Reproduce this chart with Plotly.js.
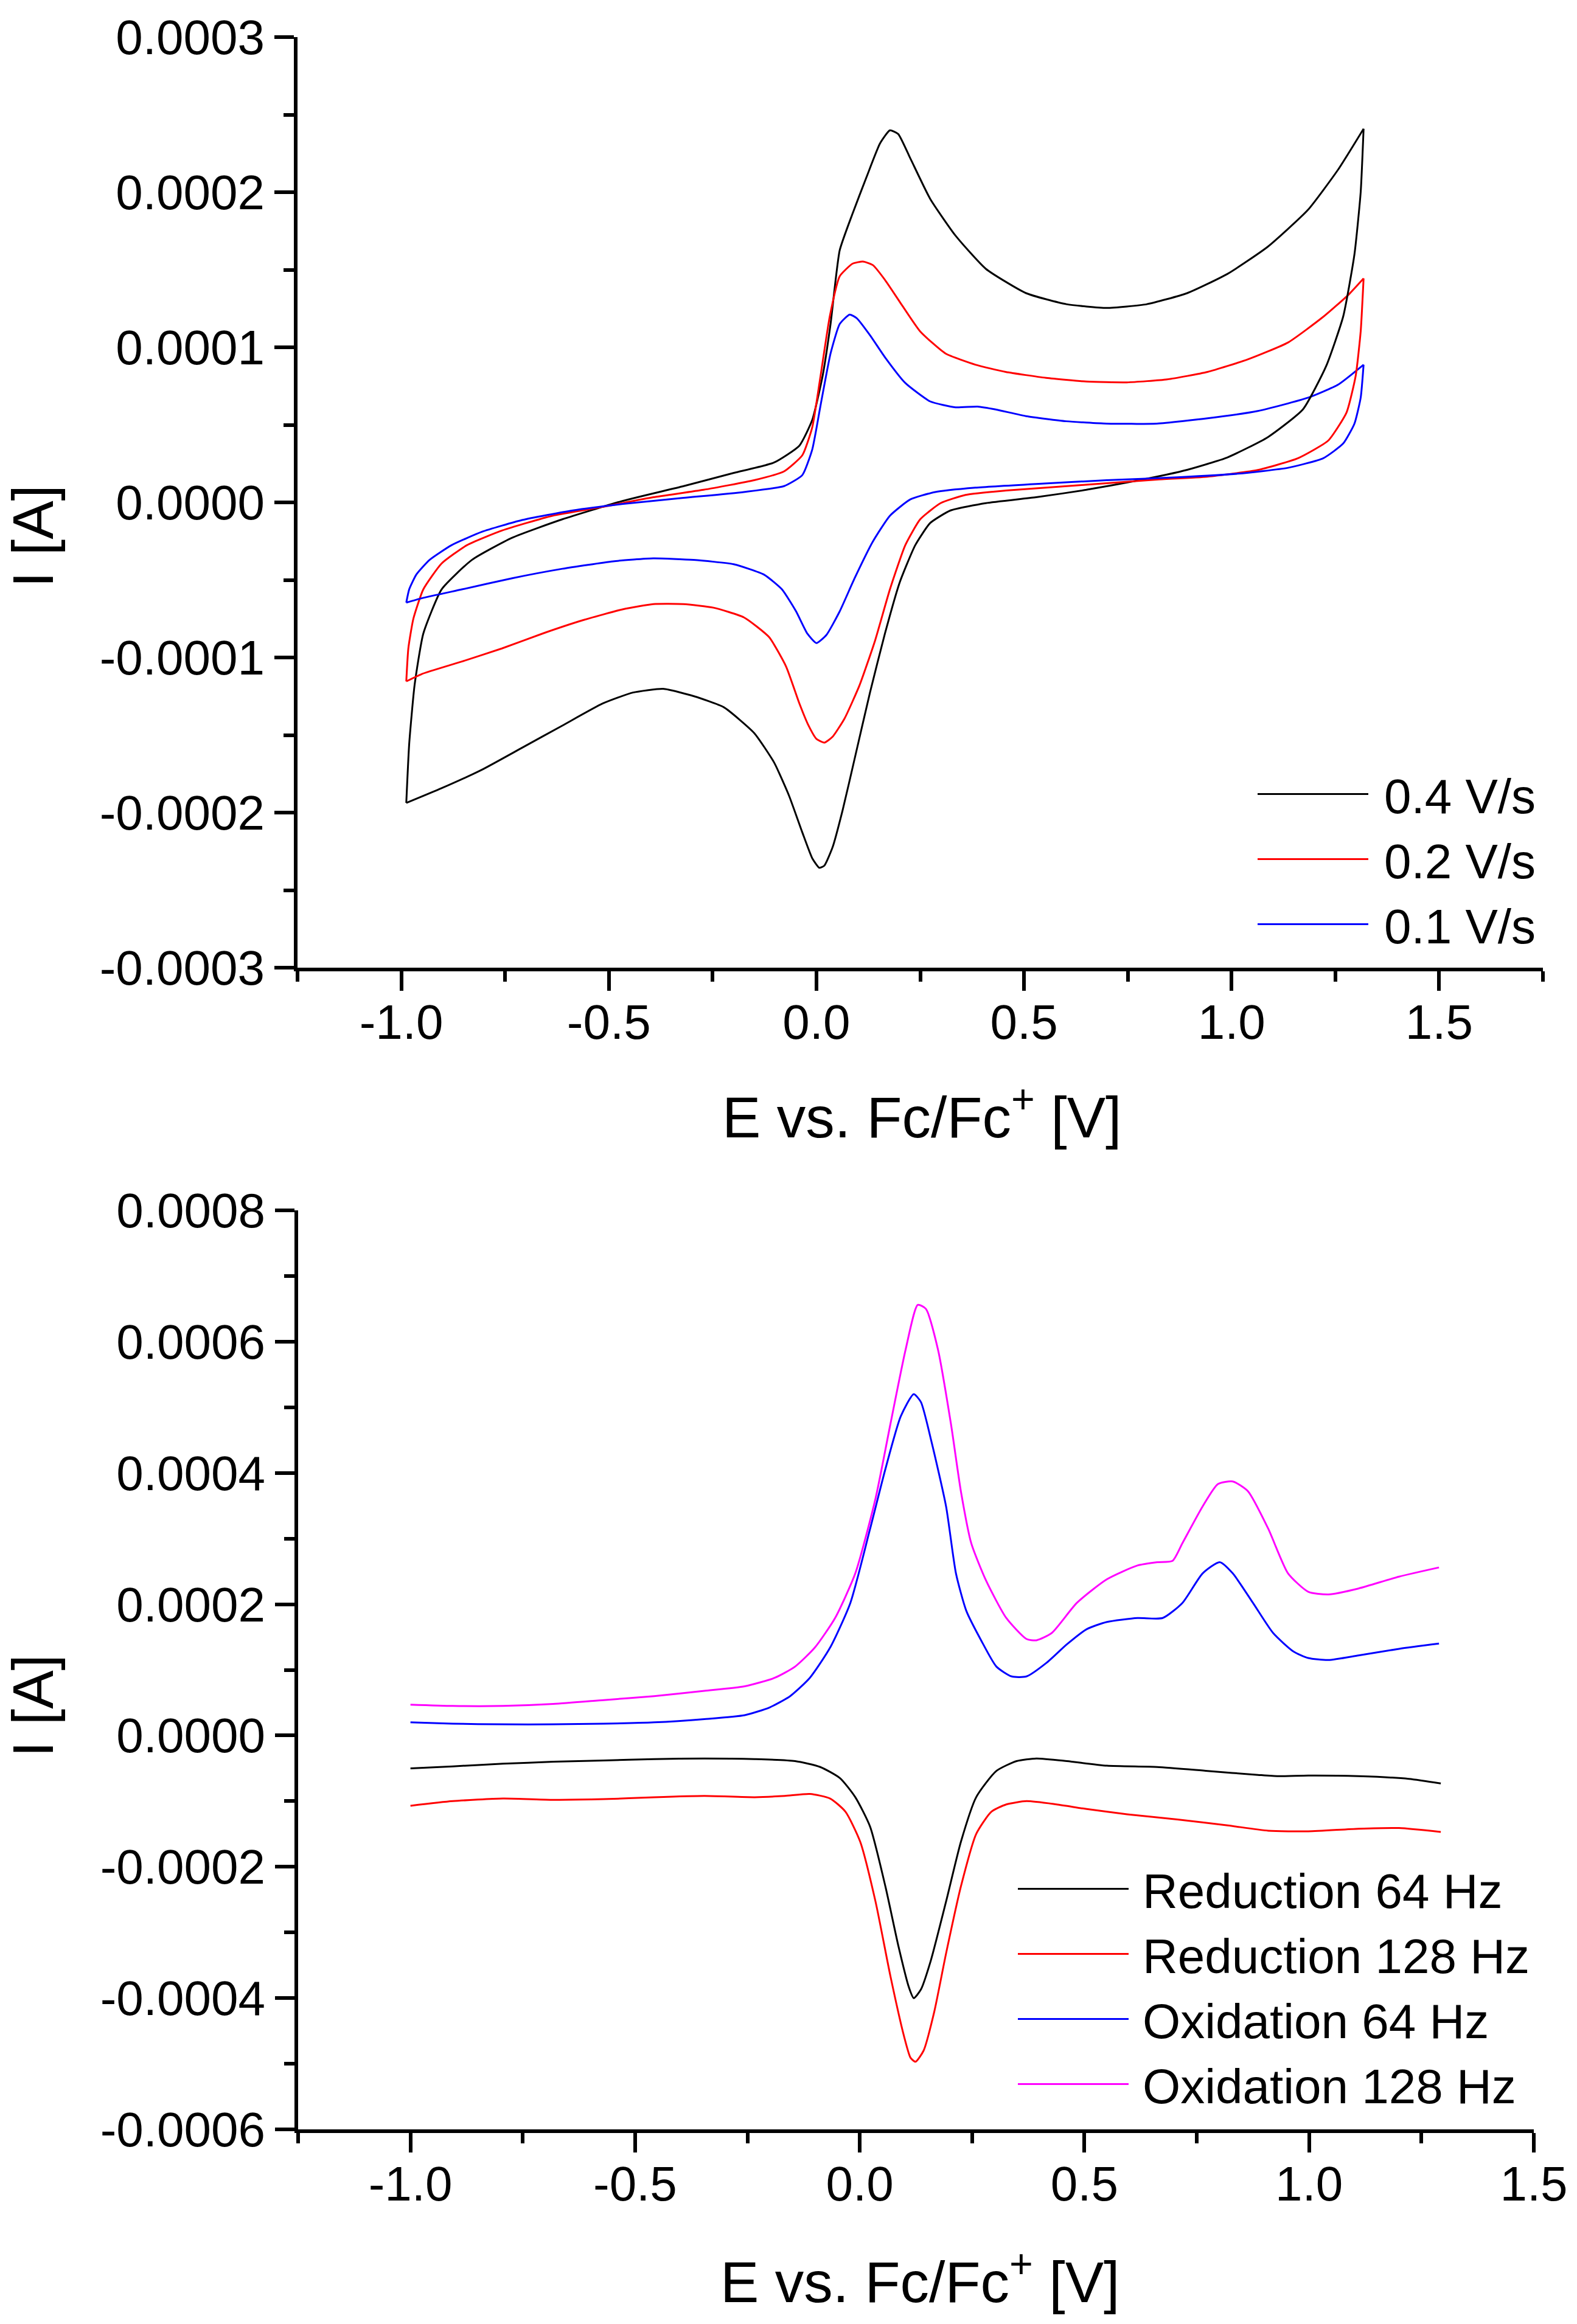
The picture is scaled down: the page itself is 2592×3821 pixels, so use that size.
<!DOCTYPE html>
<html><head><meta charset="utf-8">
<script src="https://cdn.plot.ly/plotly-3.0.1.min.js"></script>
<style>html,body{margin:0;padding:0;background:#fff}</style>
</head><body><div id="chart" style="width:2592px;height:3821px"></div>
<script>
// ---------- Top panel: cyclic voltammograms ----------
var cvLabels = ["0.4 V/s", "0.2 V/s", "0.1 V/s"];
var cvColors = ["#000000", "#FF0000", "#0000FF"];

var cv04_fwd_E = [-0.988,-0.981,-0.968,-0.947,-0.903,-0.830,-0.733,-0.612,-0.466,-0.320,-0.199,-0.102,-0.041,-0.010,0.015,0.034,0.056,0.087,0.121,0.153,0.177,0.197,0.226,0.274,0.335,0.408,0.505,0.602,0.699,0.796,0.893,0.990,1.087,1.184,1.257,1.318];
var cv04_fwd_I = [-1.938e-4,-1.558e-4,-1.178e-4,-0.846e-4,-0.561e-4,-0.371e-4,-0.228e-4,-0.109e-4,0.010e-4,0.105e-4,0.190e-4,0.257e-4,0.366e-4,0.532e-4,0.817e-4,1.150e-4,1.625e-4,1.862e-4,2.100e-4,2.314e-4,2.399e-4,2.375e-4,2.219e-4,1.957e-4,1.720e-4,1.506e-4,1.349e-4,1.278e-4,1.254e-4,1.278e-4,1.349e-4,1.473e-4,1.648e-4,1.886e-4,2.147e-4,2.409e-4];
var cv04_rev_E = [1.318,1.311,1.296,1.269,1.228,1.172,1.087,0.990,0.893,0.772,0.650,0.529,0.408,0.323,0.274,0.238,0.201,0.165,0.129,0.092,0.063,0.039,0.019,0.007,-0.010,-0.034,-0.066,-0.102,-0.150,-0.223,-0.296,-0.369,-0.442,-0.515,-0.612,-0.709,-0.806,-0.903,-0.988];
var cv04_rev_I = [2.409e-4,2.00e-4,1.60e-4,1.20e-4,0.88e-4,0.60e-4,0.42e-4,0.29e-4,0.21e-4,0.14e-4,0.081e-4,0.033e-4,-0.005e-4,-0.052e-4,-0.133e-4,-0.276e-4,-0.513e-4,-0.846e-4,-1.226e-4,-1.653e-4,-1.986e-4,-2.223e-4,-2.342e-4,-2.356e-4,-2.295e-4,-2.128e-4,-1.891e-4,-1.677e-4,-1.487e-4,-1.321e-4,-1.249e-4,-1.202e-4,-1.226e-4,-1.297e-4,-1.439e-4,-1.582e-4,-1.724e-4,-1.843e-4,-1.938e-4];

var cv02_fwd_E = [-0.988,-0.983,-0.971,-0.947,-0.903,-0.842,-0.757,-0.636,-0.515,-0.393,-0.272,-0.150,-0.078,-0.034,-0.010,0.010,0.032,0.056,0.087,0.112,0.136,0.165,0.201,0.250,0.311,0.383,0.456,0.553,0.650,0.748,0.845,0.942,1.039,1.136,1.221,1.282,1.318];
var cv02_fwd_I = [-1.154e-4,-0.941e-4,-0.751e-4,-0.561e-4,-0.394e-4,-0.276e-4,-0.181e-4,-0.086e-4,-0.029e-4,0.033e-4,0.081e-4,0.143e-4,0.200e-4,0.304e-4,0.485e-4,0.817e-4,1.197e-4,1.458e-4,1.539e-4,1.553e-4,1.530e-4,1.435e-4,1.292e-4,1.102e-4,0.960e-4,0.888e-4,0.841e-4,0.803e-4,0.779e-4,0.774e-4,0.793e-4,0.841e-4,0.922e-4,1.031e-4,1.197e-4,1.340e-4,1.444e-4];
var cv02_rev_E = [1.318,1.311,1.299,1.277,1.233,1.160,1.063,0.942,0.820,0.699,0.578,0.456,0.359,0.299,0.250,0.214,0.177,0.141,0.104,0.068,0.039,0.019,0.000,-0.019,-0.041,-0.073,-0.114,-0.175,-0.248,-0.320,-0.393,-0.466,-0.563,-0.660,-0.757,-0.854,-0.951,-0.988];
var cv02_rev_I = [1.444e-4,1.102e-4,0.817e-4,0.580e-4,0.399e-4,0.285e-4,0.209e-4,0.166e-4,0.147e-4,0.124e-4,0.100e-4,0.076e-4,0.048e-4,-0.005e-4,-0.109e-4,-0.276e-4,-0.561e-4,-0.893e-4,-1.178e-4,-1.392e-4,-1.511e-4,-1.549e-4,-1.525e-4,-1.439e-4,-1.297e-4,-1.059e-4,-0.869e-4,-0.741e-4,-0.679e-4,-0.656e-4,-0.656e-4,-0.689e-4,-0.760e-4,-0.846e-4,-0.941e-4,-1.026e-4,-1.107e-4,-1.154e-4];

var cv01_fwd_E = [-0.988,-0.981,-0.964,-0.932,-0.879,-0.806,-0.709,-0.587,-0.466,-0.320,-0.175,-0.078,-0.034,-0.010,0.010,0.034,0.056,0.080,0.097,0.129,0.165,0.214,0.274,0.335,0.388,0.432,0.505,0.602,0.699,0.820,0.942,1.063,1.184,1.257,1.318];
var cv01_fwd_I = [-0.646e-4,-0.561e-4,-0.466e-4,-0.371e-4,-0.276e-4,-0.190e-4,-0.114e-4,-0.052e-4,-0.010e-4,0.029e-4,0.067e-4,0.105e-4,0.176e-4,0.342e-4,0.627e-4,0.960e-4,1.150e-4,1.211e-4,1.188e-4,1.078e-4,0.936e-4,0.770e-4,0.651e-4,0.613e-4,0.618e-4,0.599e-4,0.556e-4,0.523e-4,0.508e-4,0.508e-4,0.542e-4,0.589e-4,0.675e-4,0.760e-4,0.888e-4];
var cv01_rev_E = [1.318,1.311,1.296,1.269,1.221,1.136,1.015,0.869,0.699,0.529,0.383,0.286,0.226,0.177,0.136,0.092,0.056,0.024,0.000,-0.022,-0.049,-0.083,-0.126,-0.199,-0.296,-0.393,-0.490,-0.612,-0.733,-0.854,-0.951,-0.988];
var cv01_rev_I = [0.888e-4,0.675e-4,0.508e-4,0.380e-4,0.285e-4,0.223e-4,0.185e-4,0.162e-4,0.143e-4,0.119e-4,0.095e-4,0.067e-4,0.019e-4,-0.086e-4,-0.252e-4,-0.489e-4,-0.703e-4,-0.855e-4,-0.907e-4,-0.846e-4,-0.703e-4,-0.561e-4,-0.466e-4,-0.399e-4,-0.371e-4,-0.361e-4,-0.380e-4,-0.428e-4,-0.489e-4,-0.561e-4,-0.618e-4,-0.646e-4];

// ---------- Bottom panel: square-wave voltammetry ----------
var swvLabels = ["Reduction 64 Hz", "Reduction 128 Hz", "Oxidation 64 Hz", "Oxidation 128 Hz"];
var swvColors = ["#000000", "#FF0000", "#0000FF", "#FF00FF"];

var red64_E = [-1.0,-0.906,-0.794,-0.682,-0.570,-0.458,-0.346,-0.234,-0.144,-0.088,-0.044,-0.010,0.023,0.057,0.086,0.109,0.120,0.136,0.158,0.192,0.225,0.259,0.304,0.349,0.393,0.461,0.550,0.662,0.774,0.886,0.931,0.998,1.110,1.222,1.293];
var red64_I = [-0.50e-4,-0.47e-4,-0.43e-4,-0.40e-4,-0.38e-4,-0.36e-4,-0.35e-4,-0.36e-4,-0.39e-4,-0.48e-4,-0.65e-4,-0.94e-4,-1.39e-4,-2.30e-4,-3.21e-4,-3.83e-4,-4.00e-4,-3.87e-4,-3.43e-4,-2.53e-4,-1.62e-4,-0.94e-4,-0.54e-4,-0.39e-4,-0.35e-4,-0.39e-4,-0.46e-4,-0.48e-4,-0.54e-4,-0.60e-4,-0.62e-4,-0.61e-4,-0.62e-4,-0.66e-4,-0.73e-4];

var red128_E = [-1.0,-0.906,-0.794,-0.682,-0.570,-0.458,-0.346,-0.234,-0.167,-0.111,-0.066,-0.032,0.001,0.035,0.068,0.098,0.113,0.124,0.142,0.165,0.192,0.225,0.259,0.293,0.326,0.371,0.438,0.505,0.595,0.707,0.819,0.909,0.998,1.110,1.200,1.293];
var red128_I = [-1.07e-4,-1.00e-4,-0.96e-4,-0.98e-4,-0.97e-4,-0.94e-4,-0.92e-4,-0.94e-4,-0.92e-4,-0.89e-4,-0.96e-4,-1.16e-4,-1.62e-4,-2.53e-4,-3.66e-4,-4.57e-4,-4.91e-4,-4.97e-4,-4.80e-4,-4.23e-4,-3.32e-4,-2.30e-4,-1.50e-4,-1.16e-4,-1.05e-4,-1.00e-4,-1.05e-4,-1.12e-4,-1.20e-4,-1.28e-4,-1.37e-4,-1.45e-4,-1.46e-4,-1.42e-4,-1.41e-4,-1.47e-4];

var ox64_E = [-1.0,-0.906,-0.794,-0.682,-0.570,-0.458,-0.346,-0.256,-0.200,-0.155,-0.111,-0.066,-0.021,0.023,0.057,0.091,0.120,0.136,0.158,0.192,0.214,0.237,0.270,0.304,0.338,0.371,0.416,0.461,0.505,0.550,0.618,0.674,0.718,0.763,0.801,0.830,0.875,0.920,0.965,0.998,1.043,1.110,1.200,1.289];
var ox64_I = [0.20e-4,0.18e-4,0.17e-4,0.17e-4,0.18e-4,0.20e-4,0.25e-4,0.31e-4,0.43e-4,0.60e-4,0.88e-4,1.34e-4,2.02e-4,3.15e-4,4.06e-4,4.86e-4,5.20e-4,5.08e-4,4.52e-4,3.49e-4,2.47e-4,1.90e-4,1.45e-4,1.05e-4,0.90e-4,0.90e-4,1.11e-4,1.39e-4,1.62e-4,1.73e-4,1.79e-4,1.79e-4,2.02e-4,2.47e-4,2.64e-4,2.47e-4,2.02e-4,1.56e-4,1.28e-4,1.18e-4,1.15e-4,1.22e-4,1.32e-4,1.40e-4];

var ox128_E = [-1.0,-0.906,-0.794,-0.682,-0.570,-0.458,-0.346,-0.256,-0.189,-0.144,-0.100,-0.055,-0.010,0.035,0.068,0.102,0.129,0.147,0.174,0.203,0.225,0.248,0.281,0.326,0.371,0.393,0.427,0.483,0.550,0.618,0.662,0.696,0.718,0.763,0.797,0.830,0.864,0.909,0.953,0.998,1.043,1.110,1.200,1.289];
var ox128_I = [0.47e-4,0.45e-4,0.45e-4,0.48e-4,0.54e-4,0.60e-4,0.68e-4,0.75e-4,0.88e-4,1.05e-4,1.34e-4,1.79e-4,2.47e-4,3.61e-4,4.74e-4,5.88e-4,6.56e-4,6.50e-4,5.88e-4,4.74e-4,3.72e-4,2.93e-4,2.36e-4,1.79e-4,1.47e-4,1.45e-4,1.56e-4,2.02e-4,2.38e-4,2.59e-4,2.64e-4,2.66e-4,2.93e-4,3.49e-4,3.83e-4,3.87e-4,3.72e-4,3.15e-4,2.47e-4,2.19e-4,2.15e-4,2.24e-4,2.42e-4,2.56e-4];

// ---------- Tick labels ----------
var xTickVals = [-1.0, -0.5, 0.0, 0.5, 1.0, 1.5];
var xTickText = ["-1.0", "-0.5", "0.0", "0.5", "1.0", "1.5"];
var yTopTickVals = [-0.0003, -0.0002, -0.0001, 0, 0.0001, 0.0002, 0.0003];
var yTopTickText = ["-0.0003", "-0.0002", "-0.0001", "0.0000", "0.0001", "0.0002", "0.0003"];
var yBotTickVals = [-0.0006, -0.0004, -0.0002, 0, 0.0002, 0.0004, 0.0006, 0.0008];
var yBotTickText = ["-0.0006", "-0.0004", "-0.0002", "0.0000", "0.0002", "0.0004", "0.0006", "0.0008"];

var FONT = "Liberation Sans, Arial, sans-serif";

var cvFwdE = [cv04_fwd_E, cv02_fwd_E, cv01_fwd_E];
var cvFwdI = [cv04_fwd_I, cv02_fwd_I, cv01_fwd_I];
var cvRevE = [cv04_rev_E, cv02_rev_E, cv01_rev_E];
var cvRevI = [cv04_rev_I, cv02_rev_I, cv01_rev_I];
var swvE = [red64_E, red128_E, ox64_E, ox128_E];
var swvI = [red64_I, red128_I, ox64_I, ox128_I];

var traces = [];
for (var i = 0; i < 3; i++) {
  traces.push({type:'scatter', mode:'lines', x: cvFwdE[i], y: cvFwdI[i], name: cvLabels[i],
    legendgroup:'cv'+i, line:{color: cvColors[i], width: 3, shape:'spline', smoothing:0.5},
    xaxis:'x', yaxis:'y', legend:'legend'});
}
for (var k = 0; k < 3; k++) {
  traces.push({type:'scatter', mode:'lines', x: cvRevE[k], y: cvRevI[k], name: cvLabels[k],
    legendgroup:'cv'+k, showlegend:false, line:{color: cvColors[k], width: 3, shape:'spline', smoothing:0.5},
    xaxis:'x', yaxis:'y', legend:'legend'});
}
for (var j = 0; j < 4; j++) {
  traces.push({type:'scatter', mode:'lines', x: swvE[j], y: swvI[j], name: swvLabels[j],
    line:{color: swvColors[j], width: 3, shape:'spline', smoothing:0.6}, xaxis:'x2', yaxis:'y2', legend:'legend2'});
}

function axisBase() {
  return {
    showline:true, linewidth:6, linecolor:'#000', mirror:false,
    showgrid:false, zeroline:false,
    ticks:'outside', ticklen:32, tickwidth:6, tickcolor:'#000',
    tickfont:{family:FONT, size:80, color:'#000'},
    tickmode:'array', fixedrange:true
  };
}

var xa1 = axisBase(); Object.assign(xa1, {domain:[489/2592, 2536/2592], range:[-1.25, 1.75], anchor:'y',
  tickvals:xTickVals, ticktext:xTickText, ticklabelstandoff:-17,
  minor:{tickmode:'linear', tick0:0, dtick:0.25, ticks:'outside', ticklen:17, tickwidth:6, tickcolor:'#000'}});
var ya1 = axisBase(); Object.assign(ya1, {domain:[1-1591/3821, 1-61/3821], range:[-0.0003, 0.0003], anchor:'x',
  tickvals:yTopTickVals, ticktext:yTopTickText,
  minor:{tickmode:'linear', tick0:0, dtick:0.00005, ticks:'outside', ticklen:17, tickwidth:6, tickcolor:'#000'}});
var xa2 = axisBase(); Object.assign(xa2, {domain:[490/2592, 2521/2592], range:[-1.25, 1.5], anchor:'y2',
  tickvals:xTickVals, ticktext:xTickText, ticklabelstandoff:-17,
  minor:{tickmode:'linear', tick0:0, dtick:0.25, ticks:'outside', ticklen:17, tickwidth:6, tickcolor:'#000'}});
var ya2 = axisBase(); Object.assign(ya2, {domain:[1-3501/3821, 1-1990/3821], range:[-0.0006, 0.0008], anchor:'x2',
  tickvals:yBotTickVals, ticktext:yBotTickText,
  minor:{tickmode:'linear', tick0:0, dtick:0.0001, ticks:'outside', ticklen:17, tickwidth:6, tickcolor:'#000'}});

var titleFont = {family:FONT, size:95, color:'#000'};
var xTitle = "E vs. Fc/Fc<sup>+</sup> [V]";
var yTitle = "I [A]";

var layout = {
  width:2592, height:3821,
  margin:{l:0, r:0, t:0, b:0, pad:0},
  paper_bgcolor:'#fff', plot_bgcolor:'#fff',
  font:{family:FONT, color:'#000'},
  showlegend:true,
  xaxis:xa1, yaxis:ya1, xaxis2:xa2, yaxis2:ya2,
  legend:{x:2062/2592, xanchor:'left', y:1-1247/3821, yanchor:'top', bgcolor:'rgba(0,0,0,0)',
    borderwidth:0, font:{family:FONT, size:80, color:'#000'}, itemwidth:203, tracegroupgap:0},
  legend2:{x:1668/2592, xanchor:'left', y:1-3047/3821, yanchor:'top', bgcolor:'rgba(0,0,0,0)',
    borderwidth:0, font:{family:FONT, size:80, color:'#000'}, itemwidth:200, tracegroupgap:0},
  annotations:[
    {text:xTitle, xref:'paper', yref:'paper', x:1515/2592, y:1-1830/3821, xanchor:'center', yanchor:'middle', showarrow:false, font:titleFont},
    {text:xTitle, xref:'paper', yref:'paper', x:1512/2592, y:1-3745/3821, xanchor:'center', yanchor:'middle', showarrow:false, font:titleFont},
    {text:yTitle, xref:'paper', yref:'paper', x:54/2592, y:1-882/3821, xanchor:'center', yanchor:'middle', textangle:-90, showarrow:false, font:titleFont},
    {text:yTitle, xref:'paper', yref:'paper', x:54/2592, y:1-2805/3821, xanchor:'center', yanchor:'middle', textangle:-90, showarrow:false, font:titleFont}
  ]
};

Plotly.newPlot('chart', traces, layout, {displayModeBar:false, staticPlot:true}).then(function(gd){
  var paths = document.querySelectorAll('g.legendlines path');
  paths.forEach(function(p){ p.setAttribute('d', 'M5,0h182'); });
});
</script></body></html>
